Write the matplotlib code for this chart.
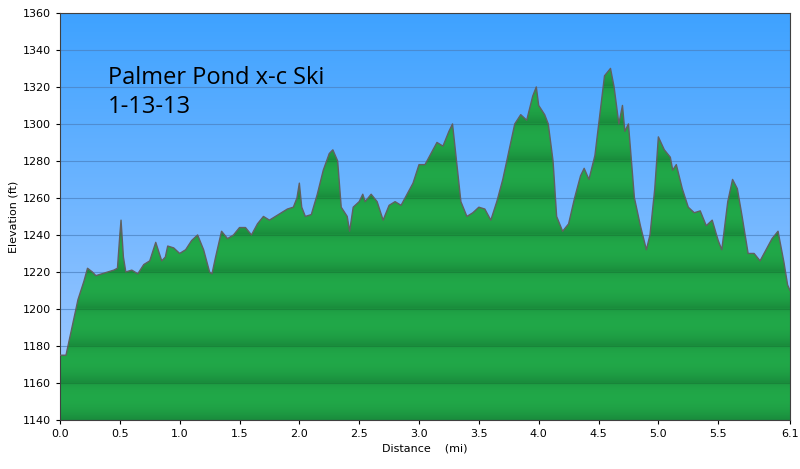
import numpy as np
import matplotlib
matplotlib.use("Agg")
import matplotlib.pyplot as plt
from matplotlib.colors import LinearSegmentedColormap

dist = [0.0,0.05,0.1,0.15,0.2,0.23,0.27,0.3,0.35,0.4,0.45,0.48,0.5,0.51,0.53,0.55,0.6,0.65,0.7,0.75,0.8,0.85,0.88,0.9,0.95,1.0,1.05,1.1,1.15,1.2,1.25,1.27,1.3,1.35,1.4,1.45,1.5,1.55,1.6,1.65,1.7,1.75,1.8,1.85,1.9,1.95,1.98,2.0,2.02,2.05,2.1,2.15,2.2,2.25,2.28,2.32,2.35,2.4,2.42,2.45,2.5,2.53,2.55,2.6,2.65,2.7,2.75,2.8,2.85,2.9,2.95,3.0,3.05,3.1,3.15,3.2,3.25,3.28,3.3,3.35,3.4,3.45,3.5,3.55,3.6,3.65,3.7,3.75,3.8,3.85,3.9,3.95,3.98,4.0,4.05,4.08,4.12,4.15,4.2,4.25,4.3,4.35,4.38,4.42,4.47,4.52,4.55,4.6,4.63,4.67,4.7,4.72,4.75,4.8,4.85,4.9,4.93,4.97,5.0,5.05,5.1,5.12,5.15,5.2,5.25,5.3,5.35,5.4,5.45,5.5,5.53,5.58,5.62,5.66,5.7,5.75,5.8,5.85,5.9,5.95,6.0,6.05,6.08,6.1]
elev = [1175,1175,1190,1205,1215,1222,1220,1218,1219,1220,1221,1222,1240,1248,1228,1220,1221,1219,1224,1226,1236,1226,1228,1234,1233,1230,1232,1237,1240,1232,1220,1219,1228,1242,1238,1240,1244,1244,1240,1246,1250,1248,1250,1252,1254,1255,1260,1268,1255,1250,1251,1262,1275,1284,1286,1280,1255,1250,1242,1255,1258,1262,1258,1262,1258,1248,1256,1258,1256,1262,1268,1278,1278,1284,1290,1288,1296,1300,1288,1258,1250,1252,1255,1254,1248,1258,1270,1285,1300,1305,1302,1315,1320,1310,1305,1300,1280,1250,1242,1246,1260,1272,1276,1270,1283,1310,1326,1330,1320,1300,1310,1296,1300,1260,1245,1232,1240,1265,1293,1286,1282,1275,1278,1265,1255,1252,1253,1245,1248,1237,1232,1258,1270,1265,1250,1230,1230,1226,1232,1238,1242,1225,1213,1210]
xticks = [0.0,0.5,1.0,1.5,2.0,2.5,3.0,3.5,4.0,4.5,5.0,5.5,6.1]
xticklabels = ["0.0","0.5","1.0","1.5","2.0","2.5","3.0","3.5","4.0","4.5","5.0","5.5","6.1"]
yticks = list(range(1140, 1361, 20))

fig = plt.figure(figsize=(8, 4.69), dpi=100)
ax = fig.add_axes([0.075, 0.1045, 0.9125, 0.868])
xmin, xmax, ymin, ymax = 0, 6.1, 1140, 1360
ax.set_xlim(xmin, xmax); ax.set_ylim(ymin, ymax)

sky = LinearSegmentedColormap.from_list("sky", ["#a8ccff", "#3ea2ff"])
ax.imshow(np.linspace(0, 1, 256).reshape(-1, 1), cmap=sky, origin="lower",
          extent=[xmin, xmax, ymin, ymax], aspect="auto", zorder=0)
for y in yticks:
    ax.axhline(y, color="#4a80c0", lw=0.8, alpha=0.7, zorder=1)

yy = np.linspace(ymin, ymax, 2000)
ph = (yy - ymin) % 20 / 20.0
band = np.clip(1 - ph, 0, 1) ** 3 * 0.8 + np.clip(ph, 0, 1) ** 4 * 0.4
green = LinearSegmentedColormap.from_list("g", ["#22ac4a", "#178238"])
poly = ax.fill_between(dist, elev, ymin, color="none", lw=0, zorder=2)
img = ax.imshow(band.reshape(-1, 1), cmap=green, origin="lower", vmin=0, vmax=1,
                extent=[xmin, xmax, ymin, ymax], aspect="auto", zorder=2)
img.set_clip_path(poly.get_paths()[0], transform=ax.transData)
for y in yticks:
    ax.axhline(y, color="#156f30", lw=0.8, alpha=0.5, zorder=2.5,
               clip_path=img.get_clip_path())
ax.plot(dist, elev, color="#606060", lw=1, zorder=3)

ax.text(0.066, 0.87, "Palmer Pond x-c Ski\n1-13-13", transform=ax.transAxes,
        fontsize=17, family="Open Sans", va="top", ha="left", linespacing=1.3)

ax.set_xticks(xticks); ax.set_xticklabels(xticklabels, fontsize=8)
ax.set_yticks(yticks); ax.tick_params(axis="y", labelsize=8)
ax.tick_params(length=3)
ax.set_xlabel("Distance    (mi)", fontsize=8, labelpad=3)
ax.set_ylabel("Elevation (ft)", fontsize=8, labelpad=3)
for s in ax.spines.values():
    s.set_color("#404040")

fig.savefig("out.png", dpi=100)
